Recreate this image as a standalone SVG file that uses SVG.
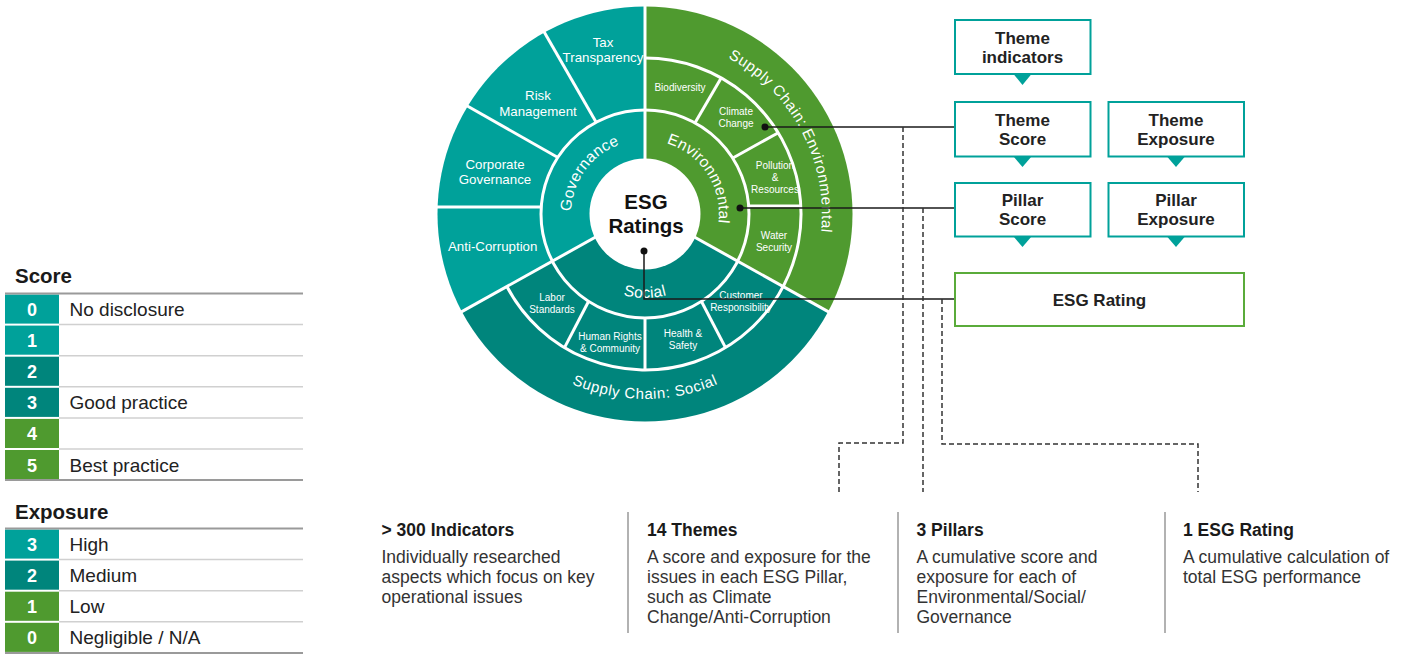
<svg xmlns="http://www.w3.org/2000/svg" width="1418" height="654" viewBox="0 0 1418 654">
<defs>
<style>
text{font-family:"Liberation Sans",Arial,Helvetica,sans-serif}
.div{stroke:#fff;stroke-width:3;fill:none}
.lbl{fill:#fff;font-size:13.3px;text-anchor:middle}
.sm{fill:#fff;font-size:10px;text-anchor:middle}
.arc{fill:#fff;font-size:15px;letter-spacing:0.6px}
.pil{fill:#fff;font-size:15.5px;letter-spacing:0.3px}
.box{fill:#fff;stroke:#00a19a;stroke-width:2}
.boxg{fill:#fff;stroke:#5aab3a;stroke-width:2}
.bt{font-size:17px;font-weight:bold;fill:#222;text-anchor:middle}
.tri{fill:#00a19a}
.conn{stroke:#1a1a1a;stroke-width:1.5;fill:none}
.dot{fill:#111}
.dash{stroke:#333;stroke-width:1.5;fill:none;stroke-dasharray:5 3}
.lt{font-size:20.5px;font-weight:bold;fill:#1a1a1a}
.num{font-size:18px;font-weight:bold;fill:#fff;text-anchor:middle}
.ll{font-size:19px;fill:#222}
.sep{stroke:#d0d0d0;stroke-width:1.5}
.rule{stroke:#9a9a9a;stroke-width:2}
.dh{font-size:17.5px;font-weight:bold;fill:#1a1a1a}
.db{font-size:17.5px;fill:#333}
.vs{stroke:#999;stroke-width:1.5}
.c1{fill:#00a19a}
.c2{fill:#00857c}
.c3{fill:#4f9a2f}
</style>
<clipPath id="disc"><circle cx="645" cy="214" r="207.5"/></clipPath>
<path id="pSCE" d="M 681.8 40.9 A 177 177 0 0 1 809.1 280.3"/>
<path id="pSCS" d="M 503.3 332.9 A 185 185 0 0 0 786.7 332.9"/>
<path id="pGov" d="M 573.2 231.9 A 74 74 0 0 1 639.8 140.2"/>
<path id="pEnv" d="M 654 140.6 A 74 74 0 0 1 715.8 235.6"/>
<path id="pSoc" d="M 580.7 268 A 84 84 0 0 0 709.3 268"/>
</defs>

<g id="legend-score">
<text class="lt" x="15" y="283">Score</text>
<rect class="c1" x="5" y="294.5" width="54" height="29.1"/>
<rect class="c1" x="5" y="325.6" width="54" height="29.1"/>
<rect class="c2" x="5" y="356.7" width="54" height="29.1"/>
<rect class="c2" x="5" y="387.8" width="54" height="29.1"/>
<rect class="c3" x="5" y="418.9" width="54" height="29.1"/>
<rect class="c3" x="5" y="450" width="54" height="29.1"/>
<line class="sep" x1="59" y1="324.6" x2="303" y2="324.6"/>
<line class="sep" x1="59" y1="355.7" x2="303" y2="355.7"/>
<line class="sep" x1="59" y1="386.8" x2="303" y2="386.8"/>
<line class="sep" x1="59" y1="417.9" x2="303" y2="417.9"/>
<line class="sep" x1="59" y1="449" x2="303" y2="449"/>
<line class="rule" x1="5" y1="293.5" x2="303" y2="293.5"/>
<line class="rule" x1="5" y1="480.1" x2="303" y2="480.1"/>
<text class="num" x="32" y="316">0</text>
<text class="num" x="32" y="347.1">1</text>
<text class="num" x="32" y="378.2">2</text>
<text class="num" x="32" y="409.3">3</text>
<text class="num" x="32" y="440.4">4</text>
<text class="num" x="32" y="471.5">5</text>
<text class="ll" x="69.5" y="316">No disclosure</text>
<text class="ll" x="69.5" y="409.3">Good practice</text>
<text class="ll" x="69.5" y="471.5">Best practice</text>
</g>

<g id="legend-exposure">
<text class="lt" x="15" y="519">Exposure</text>
<rect class="c1" x="5" y="529.5" width="54" height="29.1"/>
<rect class="c2" x="5" y="560.6" width="54" height="29.1"/>
<rect class="c3" x="5" y="591.7" width="54" height="29.1"/>
<rect class="c3" x="5" y="622.8" width="54" height="29.1"/>
<line class="sep" x1="59" y1="559.6" x2="303" y2="559.6"/>
<line class="sep" x1="59" y1="590.7" x2="303" y2="590.7"/>
<line class="sep" x1="59" y1="621.8" x2="303" y2="621.8"/>
<line class="rule" x1="5" y1="528.5" x2="303" y2="528.5"/>
<line class="rule" x1="5" y1="652.9" x2="303" y2="652.9"/>
<text class="num" x="32" y="551">3</text>
<text class="num" x="32" y="582.1">2</text>
<text class="num" x="32" y="613.2">1</text>
<text class="num" x="32" y="644.3">0</text>
<text class="ll" x="69.5" y="551">High</text>
<text class="ll" x="69.5" y="582.1">Medium</text>
<text class="ll" x="69.5" y="613.2">Low</text>
<text class="ll" x="69.5" y="644.3">Negligible / N/A</text>
</g>

<g id="esg-wheel">
<g clip-path="url(#disc)">
<polygon id="sector-governance" class="c1" points="645,209.5 645,0 430,0 430,329.4"/>
<polygon id="sector-environmental" class="c3" points="645,209.5 645,0 860,0 860,329.4"/>
<polygon id="sector-social" class="c2" points="645,209.5 430,329.4 430,430 860,430 860,329.4"/>
</g>
<g id="wheel-dividers">
<line class="div" x1="645" y1="209.5" x2="645" y2="0"/>
<line class="div" x1="645" y1="209.5" x2="430" y2="329.4"/>
<line class="div" x1="645" y1="209.5" x2="860" y2="329.4"/>
<circle class="div" cx="645" cy="214" r="104"/>
<path class="div" d="M 506.9 286.5 A 156 156 0 1 0 645 58"/>
<line class="div" x1="596" y1="122" x2="539" y2="23"/>
<line class="div" x1="557" y1="157" x2="455" y2="99"/>
<line class="div" x1="541" y1="207" x2="430" y2="207"/>
<line class="div" x1="695.2" y1="122.6" x2="721.3" y2="77.8"/>
<line class="div" x1="732.4" y1="158.2" x2="778.3" y2="132.7"/>
<line class="div" x1="748.7" y1="206" x2="800.8" y2="206"/>
<line class="div" x1="588.5" y1="301.5" x2="564.5" y2="347.6"/>
<line class="div" x1="645" y1="318" x2="645" y2="370"/>
<line class="div" x1="701.5" y1="301.5" x2="725.5" y2="347.6"/>
</g>
<circle id="center" cx="645" cy="214" r="55.5" fill="#fff"/>
<text x="646" y="209" font-size="20.5" font-weight="bold" fill="#111" text-anchor="middle">ESG</text>
<text x="646" y="233" font-size="20.5" font-weight="bold" fill="#111" text-anchor="middle">Ratings</text>

<g id="pillar-labels">
<text class="pil"><textPath href="#pGov" startOffset="50%" text-anchor="middle">Governance</textPath></text>
<text class="pil"><textPath href="#pEnv" startOffset="50%" text-anchor="middle">Environmental</textPath></text>
<text class="pil"><textPath href="#pSoc" startOffset="50%" text-anchor="middle">Social</textPath></text>
</g>
<g id="supply-chain-labels">
<text class="arc"><textPath href="#pSCE" startOffset="50%" text-anchor="middle">Supply Chain: Environmental</textPath></text>
<text class="arc"><textPath href="#pSCS" startOffset="50%" text-anchor="middle">Supply Chain: Social</textPath></text>
</g>
<g id="governance-themes">
<text class="lbl" x="603" y="46.5">Tax</text>
<text class="lbl" x="603" y="62">Transparency</text>
<text class="lbl" x="538" y="100">Risk</text>
<text class="lbl" x="538" y="115.5">Management</text>
<text class="lbl" x="495" y="169">Corporate</text>
<text class="lbl" x="495" y="184">Governance</text>
<text class="lbl" x="492.7" y="250.5">Anti-Corruption</text>
</g>
<g id="environmental-themes">
<text class="sm" x="680" y="90.5">Biodiversity</text>
<text class="sm" x="736" y="115">Climate</text>
<text class="sm" x="736" y="127">Change</text>
<text class="sm" x="775" y="168.5">Pollution</text>
<text class="sm" x="775" y="180.5">&amp;</text>
<text class="sm" x="775" y="192.5">Resources</text>
<text class="sm" x="774" y="238.5">Water</text>
<text class="sm" x="774" y="250.5">Security</text>
</g>
<g id="social-themes">
<text class="sm" x="552" y="301">Labor</text>
<text class="sm" x="552" y="313">Standards</text>
<text class="sm" x="610" y="339.5">Human Rights</text>
<text class="sm" x="610" y="351.5">&amp; Community</text>
<text class="sm" x="683" y="336.5">Health &amp;</text>
<text class="sm" x="683" y="348.5">Safety</text>
<text class="sm" x="741" y="299">Customer</text>
<text class="sm" x="741" y="311">Responsibility</text>
</g>
</g>

<g id="connectors">
<path class="conn" d="M 765 127 H 955"/>
<path class="conn" d="M 740 208 H 955"/>
<path class="conn" d="M 644 251 V 299 H 955"/>
<circle class="dot" cx="765" cy="127" r="3.5"/>
<circle class="dot" cx="740" cy="208" r="3.5"/>
<circle class="dot" cx="644" cy="251" r="3.5"/>
<path class="dash" d="M 903 127 V 443 H 839 V 492"/>
<path class="dash" d="M 923 208 V 492"/>
<path class="dash" d="M 942 299 V 444 H 1198 V 492"/>
</g>

<g id="node-theme-indicators">
<rect class="box" x="955" y="20" width="135.5" height="54"/>
<text class="bt" x="1022.5" y="44">Theme</text>
<text class="bt" x="1022.5" y="63">indicators</text>
<polygon class="tri" points="1013.5,74 1031.5,74 1022.5,85"/>
</g>
<g id="node-theme-score">
<rect class="box" x="955" y="102" width="135.5" height="54.5"/>
<text class="bt" x="1022.5" y="125.5">Theme</text>
<text class="bt" x="1022.5" y="144.5">Score</text>
<polygon class="tri" points="1013.5,156.5 1031.5,156.5 1022.5,167"/>
</g>
<g id="node-theme-exposure">
<rect class="box" x="1108.5" y="102" width="135.5" height="54.5"/>
<text class="bt" x="1176" y="125.5">Theme</text>
<text class="bt" x="1176" y="144.5">Exposure</text>
<polygon class="tri" points="1167,156.5 1185,156.5 1176,167"/>
</g>
<g id="node-pillar-score">
<rect class="box" x="955" y="183" width="135.5" height="53.5"/>
<text class="bt" x="1022.5" y="205.5">Pillar</text>
<text class="bt" x="1022.5" y="224.5">Score</text>
<polygon class="tri" points="1013.5,236.5 1031.5,236.5 1022.5,247"/>
</g>
<g id="node-pillar-exposure">
<rect class="box" x="1108.5" y="183" width="135.5" height="53.5"/>
<text class="bt" x="1176" y="205.5">Pillar</text>
<text class="bt" x="1176" y="224.5">Exposure</text>
<polygon class="tri" points="1167,236.5 1185,236.5 1176,247"/>
</g>
<g id="node-esg-rating">
<rect class="boxg" x="955" y="273" width="289" height="53"/>
<text class="bt" x="1099.5" y="306">ESG Rating</text>
</g>

<g id="desc-indicators">
<text class="dh" x="381.5" y="536">&gt; 300 Indicators</text>
<text class="db" x="381.5" y="563">Individually researched</text>
<text class="db" x="381.5" y="583">aspects which focus on key</text>
<text class="db" x="381.5" y="603">operational issues</text>
</g>
<line class="vs" x1="628" y1="512" x2="628" y2="633"/>
<g id="desc-themes">
<text class="dh" x="647" y="536">14 Themes</text>
<text class="db" x="647" y="563">A score and exposure for the</text>
<text class="db" x="647" y="583">issues in each ESG Pillar,</text>
<text class="db" x="647" y="603">such as Climate</text>
<text class="db" x="647" y="623">Change/Anti-Corruption</text>
</g>
<line class="vs" x1="898" y1="512" x2="898" y2="633"/>
<g id="desc-pillars">
<text class="dh" x="916.5" y="536">3 Pillars</text>
<text class="db" x="916.5" y="563">A cumulative score and</text>
<text class="db" x="916.5" y="583">exposure for each of</text>
<text class="db" x="916.5" y="603">Environmental/Social/</text>
<text class="db" x="916.5" y="623">Governance</text>
</g>
<line class="vs" x1="1165" y1="512" x2="1165" y2="633"/>
<g id="desc-rating">
<text class="dh" x="1183" y="536">1 ESG Rating</text>
<text class="db" x="1183" y="563">A cumulative calculation of</text>
<text class="db" x="1183" y="583">total ESG performance</text>
</g>
</svg>
